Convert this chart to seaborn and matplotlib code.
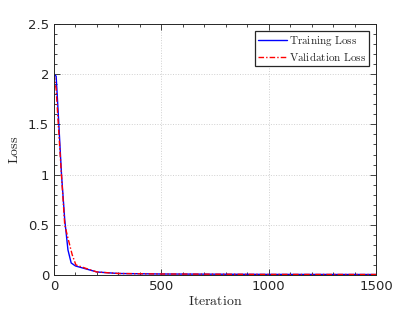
import numpy as np
import pandas as pd
import matplotlib
matplotlib.use("Agg")
import matplotlib.pyplot as plt
import seaborn as sns
from matplotlib.ticker import MultipleLocator

train_iter = [0, 10, 20, 35, 50, 65, 80, 100, 150, 200, 300, 500, 1000, 1500]
train_loss = [2.0, 1.98, 1.6, 1.0, 0.55, 0.25, 0.12, 0.09, 0.06, 0.03, 0.015, 0.01, 0.006, 0.005]
val_iter = [0, 10, 20, 33, 50, 67, 85, 102, 150, 200, 300, 500, 1000, 1500]
val_loss = [2.0, 1.85, 1.5, 1.05, 0.5, 0.35, 0.2, 0.1, 0.065, 0.03, 0.015, 0.01, 0.006, 0.005]

df = pd.concat([
    pd.DataFrame({"Iteration": train_iter, "Loss": train_loss, "Series": "Training Loss"}),
    pd.DataFrame({"Iteration": val_iter, "Loss": val_loss, "Series": "Validation Loss"}),
])

sns.set_style("ticks")
plt.rcParams["mathtext.fontset"] = "cm"
plt.rcParams["font.family"] = ["DejaVu Sans"]

fig = plt.figure(figsize=(4.15, 3.12), dpi=100)
ax = fig.add_axes([54/415, 1-275/312, (376-54)/415, (275-24)/312])

sns.lineplot(data=df, x="Iteration", y="Loss", hue="Series", style="Series",
             palette={"Training Loss": "#0000ff", "Validation Loss": "#ff0000"},
             dashes={"Training Loss": "", "Validation Loss": (4, 1.5, 1, 1.5)},
             linewidth=1.0, ax=ax, sort=False, estimator=None)

ax.set_xlim(0, 1500)
ax.set_ylim(0, 2.5)
ax.set_xticks([0, 500, 1000, 1500])
ax.set_yticks([0, 0.5, 1, 1.5, 2, 2.5])
ax.set_yticklabels(["0", "0.5", "1", "1.5", "2", "2.5"])
ax.xaxis.set_minor_locator(MultipleLocator(100))
ax.yaxis.set_minor_locator(MultipleLocator(0.1))
ax.tick_params(which="both", direction="in", top=True, right=True, labelsize=9.5,
               colors="#262626", width=0.6)
ax.tick_params(which="major", length=4)
ax.tick_params(which="minor", length=2.5)
for s in ax.spines.values():
    s.set_linewidth(0.7)
    s.set_color("#262626")
ax.grid(True, which="major", linestyle=":", color="#d0d0d0", linewidth=0.7)
ax.set_axisbelow(True)

ax.set_xlabel(r"$\mathrm{Iteration}$", fontsize=10, labelpad=1)
ax.set_ylabel(r"$\mathrm{Loss}$", fontsize=10, labelpad=5)

handles, labels = ax.get_legend_handles_labels()
leg = ax.legend(handles, [r"$\mathrm{Training\ Loss}$", r"$\mathrm{Validation\ Loss}$"],
                loc="upper right", fontsize=8, frameon=True, fancybox=False,
                framealpha=1, edgecolor="#262626", borderpad=0.3, handlelength=2.6,
                handletextpad=0.2, labelspacing=0.15, borderaxespad=0.6)
leg.get_frame().set_linewidth(0.9)

fig.savefig("out.png", dpi=100)
